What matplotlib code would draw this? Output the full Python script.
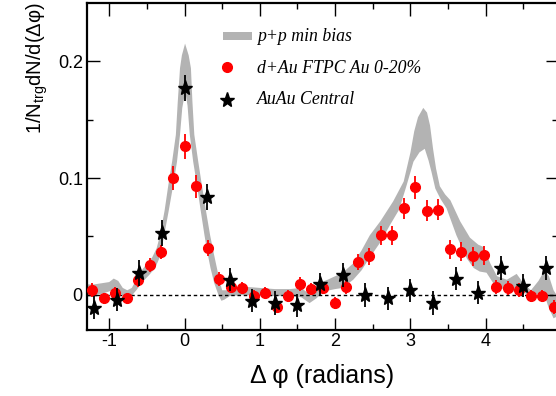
import matplotlib
matplotlib.use("Agg")
import matplotlib.pyplot as plt
from matplotlib.patches import Rectangle
import numpy as np

# d+Au FTPC Au 0-20% (red circles)
dau_x = [-1.226, -1.072, -0.919, -0.766, -0.613, -0.460, -0.306, -0.153, 0.0,
         0.153, 0.306, 0.460, 0.613, 0.766, 0.919, 1.072, 1.226, 1.379, 1.532,
         1.685, 1.839, 1.992, 2.145, 2.298, 2.451, 2.605, 2.758, 2.911, 3.064,
         3.217, 3.371, 3.524, 3.677, 3.830, 3.983, 4.137, 4.290, 4.443, 4.596,
         4.749, 4.903]
dau_y = [0.004, -0.003, 0.002, -0.003, 0.013, 0.026, 0.037, 0.100, 0.127,
         0.093, 0.040, 0.014, 0.007, 0.006, -0.001, 0.002, -0.010, -0.001, 0.009,
         0.005, 0.006, -0.007, 0.007, 0.028, 0.033, 0.051, 0.051, 0.074, 0.092,
         0.072, 0.073, 0.039, 0.037, 0.033, 0.034, 0.007, 0.006, 0.004, -0.001,
         -0.001, -0.010]
dau_err = [0.006, 0.005, 0.005, 0.005, 0.006, 0.006, 0.006, 0.010, 0.011,
           0.010, 0.007, 0.006, 0.005, 0.005, 0.005, 0.005, 0.005, 0.005, 0.006,
           0.005, 0.005, 0.005, 0.006, 0.007, 0.007, 0.008, 0.008, 0.009, 0.010,
           0.009, 0.009, 0.008, 0.008, 0.008, 0.008, 0.006, 0.006, 0.006, 0.005,
           0.005, 0.006]

# AuAu Central (black stars)
auau_x = [-1.2, -0.9, -0.6, -0.3, 0.0, 0.3, 0.6, 0.9, 1.2, 1.5, 1.8, 2.1,
          2.4, 2.7, 3.0, 3.3, 3.6, 3.9, 4.2, 4.5, 4.8]
auau_y = [-0.011, -0.004, 0.019, 0.053, 0.177, 0.084, 0.013, -0.005, -0.007,
          -0.009, 0.009, 0.017, 0.000, -0.003, 0.004, -0.007, 0.014, 0.002,
          0.023, 0.008, 0.023]
auau_err = [0.010, 0.010, 0.011, 0.011, 0.011, 0.011, 0.010, 0.010, 0.010,
            0.010, 0.010, 0.010, 0.010, 0.010, 0.010, 0.010, 0.010, 0.010,
            0.010, 0.010, 0.010]

# p+p min bias band: upper and lower edges
pp_up_x = [-1.30, -1.20, -1.10, -1.00, -0.94, -0.88, -0.82, -0.76, -0.70, -0.64,
           -0.58, -0.51, -0.43, -0.37, -0.325, -0.265, -0.215, -0.165, -0.115,
           -0.09, -0.06, -0.035, 0.007, 0.055, 0.085, 0.105, 0.13, 0.18, 0.23,
           0.29, 0.34, 0.39, 0.43, 0.465, 0.50, 0.56, 0.65, 0.80, 1.00, 1.20,
           1.40, 1.55, 1.63, 1.70, 1.78, 1.90, 2.00, 2.10, 2.24, 2.35, 2.46, 2.60,
           2.77, 2.91, 3.00, 3.05, 3.10, 3.17, 3.22, 3.26, 3.30, 3.34, 3.39, 3.46,
           3.53, 3.66, 3.79, 3.90, 3.97, 4.06, 4.15, 4.28, 4.41, 4.50, 4.60, 4.70,
           4.78, 4.84, 4.90, 4.96]
pp_up_y = [0.009, 0.009, 0.010, 0.011, 0.014, 0.012, 0.006, 0.004, 0.006, 0.013,
           0.020, 0.026, 0.032, 0.040, 0.051, 0.072, 0.094, 0.114, 0.137, 0.165,
           0.194, 0.205, 0.215, 0.205, 0.194, 0.165, 0.137, 0.115, 0.094, 0.070,
           0.051, 0.035, 0.023, 0.012, 0.004, 0.004, 0.006, 0.007, 0.006, 0.005,
           0.005, 0.006, 0.002, 0.004, 0.010, 0.013, 0.016, 0.019, 0.027, 0.038,
           0.051, 0.063, 0.080, 0.097, 0.122, 0.140, 0.152, 0.160, 0.156, 0.145,
           0.125, 0.108, 0.093, 0.086, 0.081, 0.063, 0.049, 0.043, 0.041, 0.027,
           0.016, 0.013, 0.018, 0.010, 0.004, 0.012, 0.021, 0.016, 0.004, -0.002]
pp_lo_x = [-1.30, -1.20, -1.10, -1.00, -0.93, -0.86, -0.80, -0.72, -0.64, -0.56,
           -0.47, -0.39, -0.33, -0.27, -0.21, -0.15, -0.10, -0.06, -0.03, 0.01,
           0.04, 0.07, 0.115, 0.165, 0.215, 0.265, 0.305, 0.345, 0.395, 0.45,
           0.49, 0.53, 0.60, 0.80, 1.00, 1.20, 1.40, 1.55, 1.66, 1.75, 1.85, 2.00,
           2.10, 2.24, 2.35, 2.46, 2.60, 2.73, 2.85, 2.95, 3.04, 3.12, 3.19, 3.24,
           3.28, 3.33, 3.40, 3.48, 3.61, 3.75, 3.84, 3.92, 4.01, 4.10, 4.28, 4.45,
           4.63, 4.72, 4.76, 4.83, 4.90, 4.96]
pp_lo_y = [0.000, 0.000, 0.001, 0.003, 0.005, 0.002, -0.002, -0.002, 0.004, 0.011,
           0.017, 0.023, 0.032, 0.051, 0.072, 0.094, 0.114, 0.137, 0.160, 0.174,
           0.162, 0.137, 0.114, 0.094, 0.072, 0.051, 0.036, 0.023, 0.010, 0.000,
           -0.005, -0.004, -0.001, 0.000, -0.001, -0.001, -0.001, -0.002, -0.007,
           -0.003, 0.003, 0.005, 0.006, 0.013, 0.021, 0.032, 0.045, 0.060, 0.073,
           0.094, 0.114, 0.122, 0.125, 0.115, 0.105, 0.091, 0.082, 0.074, 0.051,
           0.031, 0.023, 0.020, 0.019, 0.010, 0.003, 0.003, -0.001, 0.002, 0.004,
           -0.010, -0.020, -0.018]

legend_labels = ["p+p min bias", "d+Au FTPC Au 0-20%", "AuAu Central"]

plt.rcParams['font.family'] = ['Liberation Sans', 'DejaVu Sans']
plt.rcParams['mathtext.fontset'] = 'custom'
plt.rcParams['mathtext.rm'] = 'Liberation Sans'

fig = plt.figure(figsize=(5.56, 3.96), dpi=100)
ax = fig.add_axes([87 / 556, 66 / 396, 470.7 / 556, 327.3 / 396])

band_color = '#b3b3b3'
ax.fill(pp_up_x + pp_lo_x[::-1], pp_up_y + pp_lo_y[::-1],
        color=band_color, lw=0, zorder=1)
ax.axhline(0, color='k', lw=1.0, ls=(0, (2.5, 2)), zorder=2)

ax.errorbar(dau_x, dau_y, yerr=dau_err, fmt='o', color='#ff0000', ms=7,
            elinewidth=1.3, capsize=0, zorder=3)
ax.errorbar(auau_x, auau_y, yerr=auau_err, fmt='*', color='k', ms=11,
            elinewidth=1.3, capsize=0, zorder=4)

ax.set_xlim(-1.295, 4.955)
ax.set_ylim(-0.03, 0.25)
ax.set_xticks([-1, 0, 1, 2, 3, 4])
ax.set_xticklabels(['-1', '0', '1', '2', '3', '4'])
ax.set_xticks(np.arange(-1, 5, 0.5), minor=True)
ax.set_yticks([0, 0.1, 0.2])
ax.set_yticklabels(['0', '0.1', '0.2'])
ax.set_yticks([0.05, 0.15], minor=True)
ax.tick_params(which='both', direction='in', top=True, right=True,
               width=1.0, labelsize=13)
ax.tick_params(which='major', length=9)
ax.tick_params(which='minor', length=4.5)
ax.tick_params(axis='x', pad=2)
ax.tick_params(axis='y', pad=3)
for s in ax.spines.values():
    s.set_linewidth(1.6)

ax.set_xlabel('Δ φ (radians)', fontsize=18)
ax.xaxis.set_label_coords(0.5, -0.105)
ax.set_ylabel(r'1/N$_{\rm trg}$dN/d(Δφ)', fontsize=14.5, loc='top')
ax.yaxis.set_label_coords(-0.078, 1.0)

# legend drawn by hand to keep the glyphs at the left of the key
tr = ax.transAxes
ax.add_patch(Rectangle((0.288, 0.886), 0.062, 0.025, transform=tr,
                       color=band_color, lw=0, clip_on=False))
ax.plot([0.297], [0.8035], 'o', color='#ff0000', ms=7, transform=tr, clip_on=False)
ax.plot([0.297], [0.7027], '*', color='k', ms=11, transform=tr, clip_on=False)
leg_font = dict(family='Liberation Serif', style='italic', fontsize=12.8,
                transform=tr, va='baseline', ha='left')
ax.text(0.3605, 0.884, legend_labels[0], **leg_font)
ax.text(0.3605, 0.786, legend_labels[1], **leg_font)
ax.text(0.3605, 0.6896, legend_labels[2], **leg_font)

fig.savefig('out.png', dpi=100)
